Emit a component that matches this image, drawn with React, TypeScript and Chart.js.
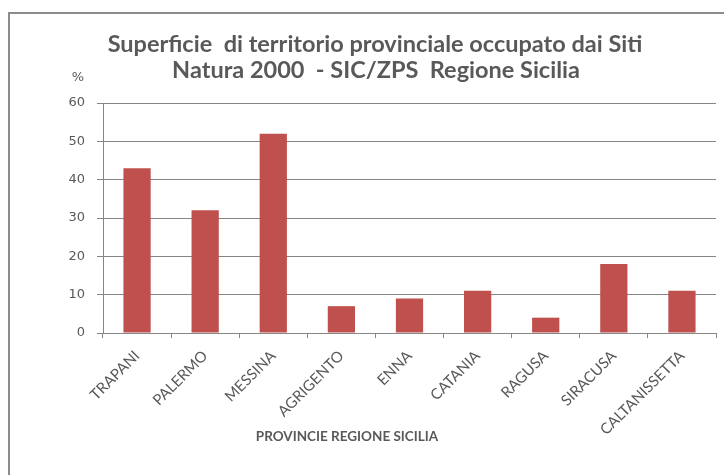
import React, { useEffect, useRef } from "react";
import { Chart, registerables } from "chart.js";

Chart.register(...registerables);

const categories = ["TRAPANI", "PALERMO", "MESSINA", "AGRIGENTO", "ENNA", "CATANIA", "RAGUSA", "SIRACUSA", "CALTANISSETTA"];
const values = [43, 32, 52, 7, 9, 11, 4, 18, 11];
const titleLines = ["Superficie  di territorio provinciale occupato dai Siti", "Natura 2000  - SIC/ZPS  Regione Sicilia"];
const xAxisTitle = "PROVINCIE REGIONE SICILIA";
const yAxisUnit = "%";

const FONT = "Lato, 'Liberation Sans', sans-serif";
const NUMFONT = "'DejaVu Sans', sans-serif";
const TEXT = "#595959";
const GRID = "#868686";

const decorPlugin = {
  id: "decor",
  afterDraw(chart: any) {
    const ctx = chart.ctx;
    ctx.save();
    // frame
    ctx.strokeStyle = "#8c8c8c";
    ctx.lineWidth = 2;
    ctx.beginPath();
    ctx.moveTo(9, 476);
    ctx.lineTo(9, 13);
    ctx.lineTo(725, 13);
    ctx.stroke();
    // title
    ctx.fillStyle = TEXT;
    ctx.textAlign = "center";
    ctx.textBaseline = "middle";
    ctx.font = "bold 23.5px " + FONT;
    ctx.fillText(titleLines[0], 375, 44);
    ctx.fillText(titleLines[1], 376, 70);
    // unit
    ctx.font = "13px " + NUMFONT;
    ctx.fillText(yAxisUnit, 78, 78);
    // x axis title
    ctx.font = "bold 13.5px " + FONT;
    ctx.fillText(xAxisTitle, 347, 437);
    ctx.restore();
  },
};

export default function App() {
  const ref = useRef<HTMLCanvasElement>(null);
  useEffect(() => {
    if (!ref.current) return;
    const chart = new Chart(ref.current, {
      type: "bar",
      data: {
        labels: categories,
        datasets: [
          {
            data: values,
            backgroundColor: "#C0504D",
            borderWidth: 0,
            barPercentage: 0.4,
            categoryPercentage: 1,
          },
        ],
      },
      options: {
        animation: false,
        responsive: false,
        maintainAspectRatio: false,
        layout: { padding: { left: 0, right: 8, top: 103, bottom: 0 } },
        plugins: { legend: { display: false }, title: { display: false }, tooltip: { enabled: false } },
        scales: {
          x: {
            offset: true,
            grid: { offset: true, drawOnChartArea: false, drawTicks: true, tickLength: 5, color: GRID },
            border: { display: true, color: GRID, width: 1 },
            ticks: {
              maxRotation: 45,
              minRotation: 45,
              autoSkip: false,
              padding: 9,
              color: TEXT,
              font: { family: FONT, size: 15 },
            },
            afterFit: (scale: any) => {
              scale.height = 142;
            },
          },
          y: {
            min: 0,
            max: 60,
            ticks: { stepSize: 10, color: TEXT, padding: 12, font: { family: NUMFONT, size: 13 } },
            grid: { color: GRID, tickLength: 6, drawTicks: true },
            border: { display: true, color: GRID, width: 1 },
            afterFit: (scale: any) => {
              scale.width = 103;
            },
          },
        },
      },
      plugins: [decorPlugin],
    });
    return () => chart.destroy();
  }, []);
  return (
    <div style={{ position: "fixed", left: 0, top: 0, width: 724, height: 475, background: "#fff" }}>
      <canvas ref={ref} width={724} height={475} style={{ width: 724, height: 475 }} />
    </div>
  );
}
